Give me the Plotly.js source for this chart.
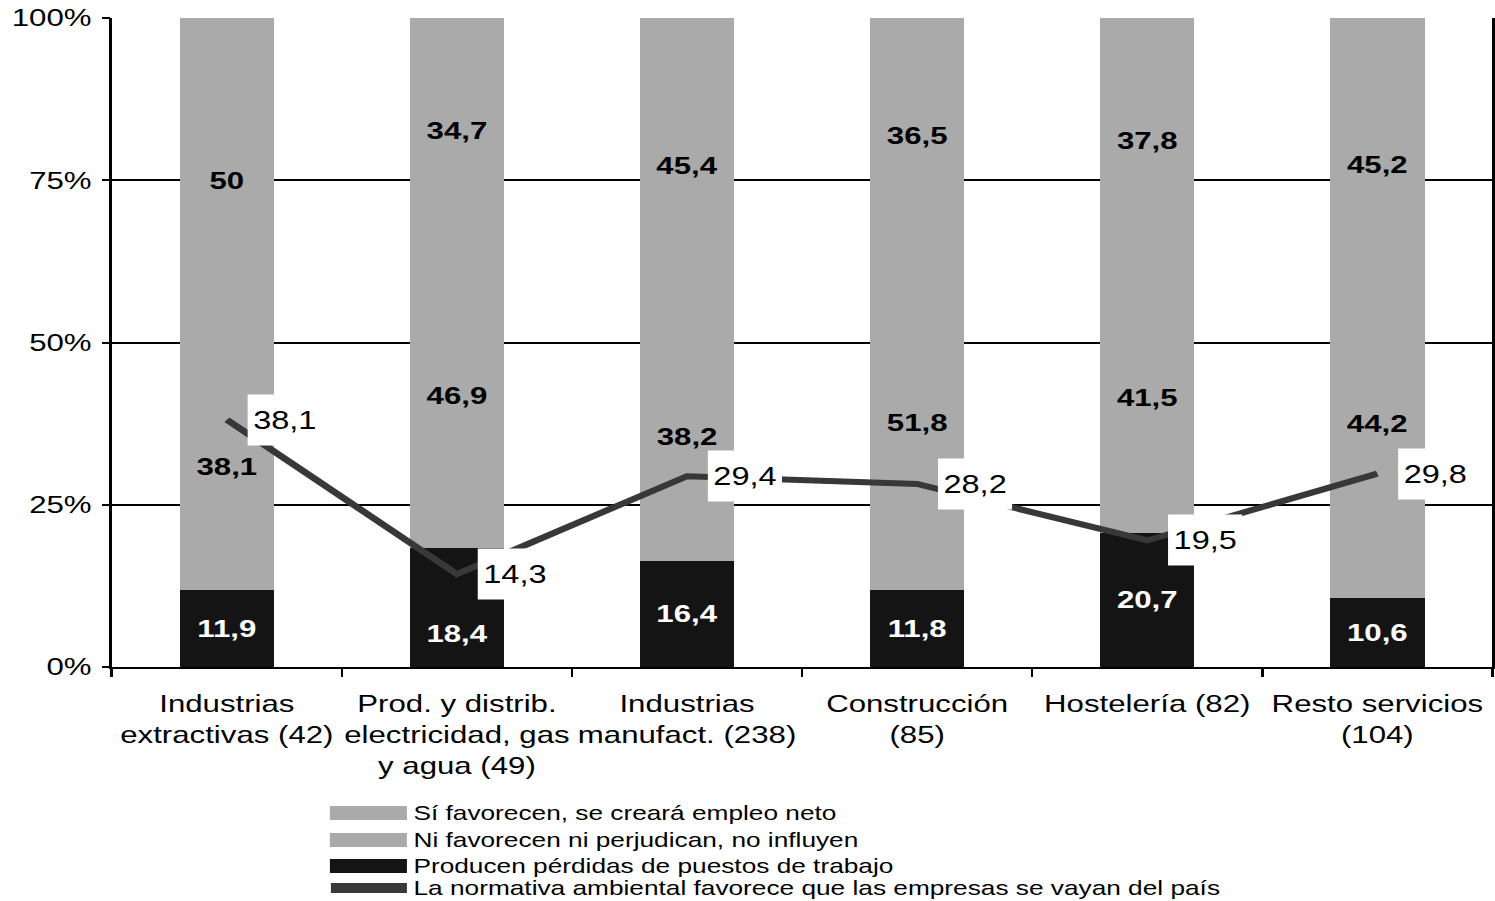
<!DOCTYPE html>
<html>
<head>
<meta charset="utf-8">
<script src="https://cdn.plot.ly/plotly-3.0.1.min.js"></script>
<style>
  html, body { margin: 0; padding: 0; background: #ffffff; overflow: hidden; }
  /* The reference picture is horizontally stretched; reproduce that with a scaleX */
  #chart { width: 1150px; height: 901px; transform: scaleX(1.3); transform-origin: 0 0; }
</style>
</head>
<body>
<div id="chart"></div>
<script>
// ---- Data ----
const categories = [
  "Industrias<br>extractivas (42)",
  "Prod. y distrib.<br>electricidad, gas<br>y agua (49)",
  "Industrias<br>manufact. (238)",
  "Construcción<br>(85)",
  "Hostelería (82)",
  "Resto servicios<br>(104)"
];
const perdidas = [11.9, 18.4, 16.4, 11.8, 20.7, 10.6];
const niFavorecen = [38.1, 46.9, 38.2, 51.8, 41.5, 44.2];
const siFavorecen = [50, 34.7, 45.4, 36.5, 37.8, 45.2];
const seVayan = [38.1, 14.3, 29.4, 28.2, 19.5, 29.8];
const yTickVals = [0, 25, 50, 75, 100];
const yTickText = ["0%", "25%", "50%", "75%", "100%"];
const seriesNames = [
  "Sí favorecen, se creará empleo neto",
  "Ni favorecen ni perjudican, no influyen",
  "Producen pérdidas de puestos de trabajo",
  "La normativa ambiental favorece que las empresas se vayan del país"
];

// ---- Styles ----
const FONT = "Liberation Sans, Arial, sans-serif";
const GRAY = "#aaaaaa";
const BLACK = "#141414";
const LINE = "#383838";
const fmt = v => String(v).replace(".", ",");

// Geometry (unstretched pixels; page is scaled by SX horizontally)
const SX = 1.3;
const W = 1150, H = 901;
const M = {l: 112 / SX, r: 3 / SX, t: 18, b: 234};
const PW = W - M.l - M.r, PH = H - M.t - M.b;
const px2x = px => (px / SX - M.l) / PW;     // px measured on final (stretched) picture
const py2y = py => (H - M.b - py) / PH;

// Labels that were moved off-centre in the original (segment -> pixel nudge)
const labelNudge = {perdidas: {1: -26}, niFavorecen: {5: 31}};

const annotations = [];
const LABEL_FONT = (color) => ({family: FONT, size: 24, color: color, weight: "bold"});

function barTrace(name, key, vals, color, textColor, base) {
  const nudges = labelNudge[key] || {};
  const text = vals.map((v, i) => (i in nudges) ? "" : fmt(v));
  vals.forEach((v, i) => {
    if (i in nudges) {
      annotations.push({
        x: categories[i], y: base[i] + v / 2, xref: "x", yref: "y",
        text: fmt(v), showarrow: false, yshift: nudges[i],
        font: LABEL_FONT(textColor)
      });
    }
  });
  return {
    type: "bar", name: name, x: categories, y: vals,
    marker: {color: color, line: {width: 0}},
    text: text, textposition: "inside", insidetextanchor: "middle", textangle: 0,
    insidetextfont: LABEL_FONT(textColor),
    hoverinfo: "y+name"
  };
}

const zeros = perdidas.map(() => 0);
const traces = [
  barTrace(seriesNames[2], "perdidas", perdidas, BLACK, "#ffffff", zeros),
  barTrace(seriesNames[1], "niFavorecen", niFavorecen, GRAY, "#000000", perdidas),
  barTrace(seriesNames[0], "siFavorecen", siFavorecen, GRAY, "#000000",
           perdidas.map((p, i) => p + niFavorecen[i])),
  {
    type: "scatter", mode: "lines", name: seriesNames[3], x: categories, y: seVayan,
    line: {color: LINE, width: 6}
  }
];

// Line value labels (white boxes)
seVayan.forEach((v, i) => annotations.push({
  x: categories[i], y: v, xref: "x", yref: "y",
  text: fmt(v), showarrow: false,
  xanchor: "left", yanchor: "middle", xshift: 20 / SX,
  bgcolor: "#ffffff", borderpad: 0, width: 73 / SX, height: 50,
  font: {family: FONT, size: 25, color: "#000000"}
}));

// Custom legend
const legendRows = [
  {name: seriesNames[0], color: GRAY, kind: "bar", cy: 813},
  {name: seriesNames[1], color: GRAY, kind: "bar", cy: 840},
  {name: seriesNames[2], color: BLACK, kind: "bar", cy: 866},
  {name: seriesNames[3], color: LINE, kind: "line", cy: 888}
];
const shapes = [];
legendRows.forEach(r => {
  if (r.kind === "bar") {
    shapes.push({type: "rect", xref: "paper", yref: "paper",
      x0: px2x(330), x1: px2x(407), y0: py2y(r.cy + 7), y1: py2y(r.cy - 7),
      fillcolor: r.color, line: {width: 0}});
  } else {
    shapes.push({type: "line", xref: "paper", yref: "paper",
      x0: px2x(331), x1: px2x(407), y0: py2y(r.cy), y1: py2y(r.cy),
      line: {color: r.color, width: 10}});
  }
  annotations.push({
    xref: "paper", yref: "paper", x: px2x(411), y: py2y(r.cy),
    xanchor: "left", yanchor: "middle", showarrow: false,
    text: r.name, font: {family: FONT, size: 20.2, color: "#000000"}
  });
});

const layout = {
  width: W, height: H,
  margin: M,
  paper_bgcolor: "#ffffff", plot_bgcolor: "#ffffff",
  barmode: "stack",
  bargap: 0.59,
  showlegend: false,
  separators: ",.",
  font: {family: FONT, color: "#000000"},
  xaxis: {
    type: "category",
    tickson: "boundaries",
    ticks: "outside", ticklen: 8, tickwidth: 1.5, tickcolor: "#000000",
    showline: true, linecolor: "#000000", linewidth: 1.5,
    showgrid: false,
    tickfont: {family: FONT, size: 24, color: "#000000"},
    tickangle: 0,
    ticklabelstandoff: 14,
    automargin: false
  },
  yaxis: {
    range: [0, 100],
    tickvals: yTickVals, ticktext: yTickText,
    ticks: "outside", ticklen: 6, tickwidth: 1.5, tickcolor: "#000000",
    showline: true, mirror: true, linecolor: "#000000", linewidth: 1.5,
    showgrid: true, gridcolor: "#000000", gridwidth: 1.5,
    zeroline: false,
    tickfont: {family: FONT, size: 24, color: "#000000"},
    ticklabelstandoff: 3,
    automargin: false
  },
  annotations: annotations,
  shapes: shapes
};

Plotly.newPlot("chart", traces, layout, {displayModeBar: false, responsive: false});
</script>
</body>
</html>
